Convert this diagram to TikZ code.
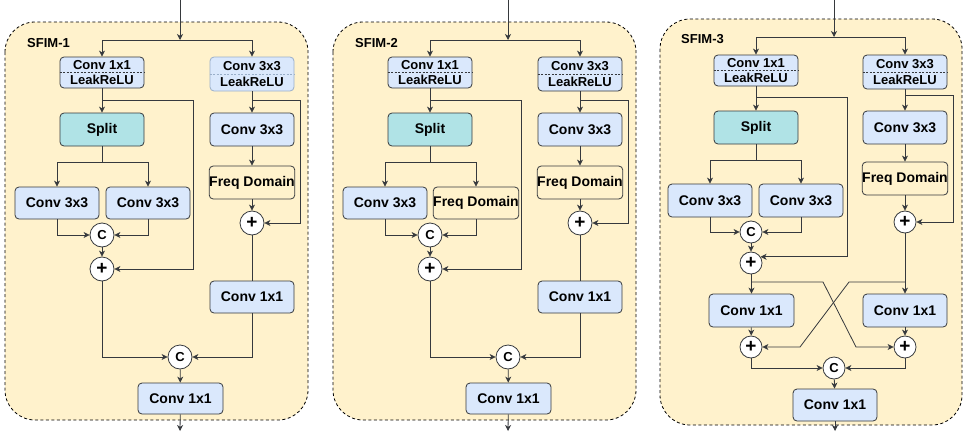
\documentclass[tikz,border=0pt]{standalone}
\usepackage{fontspec}
\setmainfont{Liberation Sans}
\usetikzlibrary{arrows.meta,calc}
\definecolor{bgY}{HTML}{FFF2CC}
\definecolor{blu}{HTML}{DAE8FC}
\definecolor{splitc}{HTML}{B0E3E6}
\definecolor{edge}{HTML}{36393D}
\definecolor{lightedge}{HTML}{9AAFC9}
\tikzset{
  every node/.style={font=\bfseries\fontsize{14}{16}\selectfont},
  panel/.style={draw=black, line width=0.8pt, dash pattern=on 3pt off 2.5pt, fill=bgY, rounded corners=30pt},
  lbl/.style={font=\bfseries\fontsize{13}{14}\selectfont, inner sep=0pt},
  blk/.style={draw=edge, line width=0.8pt, rounded corners=4pt, inner sep=0pt, fill=blu},
  spl/.style={blk, fill=splitc},
  fq/.style={blk, fill=bgY},
  two/.style={align=center, font=\bfseries\fontsize{13}{15.5}\selectfont},
  lightb/.style={draw=lightedge},
  circ/.style={draw=edge, line width=0.8pt, circle, fill=white, inner sep=0pt, minimum size=#1},
  circ/.default=24pt,
  cc/.style={circ=#1, font=\bfseries\fontsize{13}{13}\selectfont},
  cc/.default=24pt,
  pp/.style={circ=#1, font=\bfseries\fontsize{19}{19}\selectfont},
  pp/.default=24pt,
  ln/.style={draw=edge, line width=0.8pt},
  arr/.style={ln, -{Stealth[length=6pt,width=6pt,inset=1.8pt]}},
  dv/.style={draw=edge, line width=0.6pt, dash pattern=on 2pt off 1.5pt}
}
\newcommand\bx[7]{\node[#6, minimum width={(#4-#2)*1pt}, minimum height={(#5-#3)*1pt}] (#1) at ({(#2+#4)/2},{(#3+#5)/2}) {#7};}
\newcommand\panelAB[6]{%
\begin{scope}[shift={(#2,0)}]
\draw[panel] (5,22) rectangle (308,420);
\node[lbl,anchor=west] at (27,43) {#3};
\coordinate (#1in) at (180,0);
\coordinate (#1br) at (180,40);
\bx{#1c11}{60}{57}{144}{88}{blk,two}{Conv 1x1\\LeakReLU}
\bx{#1c33a}{210}{57}{294}{91}{blk,two,#6}{Conv 3x3\\LeakReLU}
\draw[dv] (#1c11.west) -- (#1c11.east);
\draw[dv,#6] (#1c33a.west) -- (#1c33a.east);
\bx{#1split}{60}{113}{144}{146}{spl}{Split}
\bx{#1cA}{15}{187}{99}{219}{blk}{Conv 3x3}
\bx{#1cB}{106}{187}{190}{219}{#4}{#5}
\node[cc] (#1C1) at (102,235) {C};
\node[pp] (#1P1) at (102,269) {+};
\bx{#1c33b}{210}{113}{294}{146}{blk}{Conv 3x3}
\bx{#1fd}{210}{166}{294}{199}{fq}{Freq Domain}
\node[pp] (#1P2) at (252,223) {+};
\bx{#1c11b}{210}{281}{294}{313}{blk}{Conv 1x1}
\node[cc] (#1C2) at (180,357) {C};
\bx{#1out}{138}{383}{223}{414}{blk}{Conv 1x1}
\coordinate (#1end) at (180,431);
\coordinate (#1k1) at (193,100);
\coordinate (#1k2) at (300,100);
\coordinate (#1s) at (102,162);
\draw[arr] (#1in) -- (#1br);
\draw[arr] (#1br) -| (#1c11.north);
\draw[arr] (#1br) -| (#1c33a.north);
\draw[arr] (#1c11) -- (#1split);
\draw[arr] (#1c11.south |- #1k1) -- (#1k1) |- (#1P1.east);
\draw[ln] (#1split) -- (#1s);
\draw[arr] (#1s) -| (#1cA.north);
\draw[arr] (#1s) -| (#1cB.north);
\draw[arr] (#1cA.south) |- (#1C1.west);
\draw[arr] (#1cB.south) |- (#1C1.east);
\draw[arr] (#1C1) -- (#1P1);
\draw[arr] (#1P1.south) |- (#1C2.west);
\draw[arr] (#1c33a) -- (#1c33b);
\draw[arr] (#1c33a.south |- #1k2) -- (#1k2) |- (#1P2.east);
\draw[arr] (#1c33b) -- (#1fd);
\draw[arr] (#1fd) -- (#1P2);
\draw[ln] (#1P2) -- (#1c11b);
\draw[arr] (#1c11b.south) |- (#1C2.east);
\draw[arr] (#1C2) -- (#1out);
\draw[arr] (#1out) -- (#1end);
\end{scope}}
\begin{document}
\begin{tikzpicture}[x=1pt,y=-1pt]
\useasboundingbox (0,0) rectangle (968,431);
\panelAB{a}{0}{SFIM-1}{blk}{Conv 3x3}{lightb}
\panelAB{b}{328}{SFIM-2}{fq}{Freq Domain}{}
% ---------- SFIM-3 ----------
\draw[panel] (660,19) rectangle (962,425);
\node[lbl,anchor=west] at (681,39) {SFIM-3};
\coordinate (cin) at (834,0);
\coordinate (cbr) at (834,37);
\bx{cc11}{714}{55}{798}{86}{blk,two}{Conv 1x1\\LeakReLU}
\bx{cc33a}{863}{55}{947}{89}{blk,two}{Conv 3x3\\LeakReLU}
\draw[dv] (cc11.west) -- (cc11.east);
\draw[dv] (cc33a.west) -- (cc33a.east);
\bx{csplit}{714}{111}{798}{144}{spl}{Split}
\bx{ccA}{668}{184}{752}{217}{blk}{Conv 3x3}
\bx{ccB}{759}{184}{843}{217}{blk}{Conv 3x3}
\node[cc=22pt] (cC1) at (751,232) {C};
\node[pp=22pt] (cP1) at (751,263) {+};
\bx{cc33b}{863}{111}{947}{144}{blk}{Conv 3x3}
\bx{cfd}{863}{162}{947}{195}{fq}{Freq Domain}
\node[pp=22pt] (cP2) at (905,222) {+};
\bx{ccL}{709}{294}{794}{327}{blk}{Conv 1x1}
\bx{ccR}{863}{294}{947}{327}{blk}{Conv 1x1}
\node[pp=22pt] (cP3) at (751,347) {+};
\node[pp=22pt] (cP4) at (905,347) {+};
\node[cc=22pt] (cC2) at (834,368) {C};
\bx{cout}{793}{389}{877}{421}{blk}{Conv 1x1}
\coordinate (cend) at (835,431);
\coordinate (ck1) at (847,97);
\coordinate (ck2) at (953,95);
\coordinate (cs) at (756,160);
\coordinate (cx1) at (905,282);
\coordinate (cx2) at (751,282);
\coordinate (cd1) at (849,282);
\coordinate (cd2) at (800,347);
\coordinate (cd3) at (823,282);
\coordinate (cd4) at (856,347);
\draw[arr] (cin) -- (cbr);
\draw[arr] (cbr) -| (cc11.north);
\draw[arr] (cbr) -| (cc33a.north);
\draw[arr] (cc11) -- (csplit);
\draw[arr] (cc11.south |- ck1) -- (ck1) |- (cP1.33);
\draw[ln] (csplit) -- (cs);
\draw[arr] (cs) -| (ccA.north);
\draw[arr] (cs) -| (ccB.north);
\draw[arr] (ccA.south) |- (cC1.west);
\draw[arr] (ccB.south) |- (cC1.east);
\draw[arr] (cC1) -- (cP1);
\draw[arr] (cc33a) -- (cc33b);
\draw[arr] (cc33a.south |- ck2) -- (ck2) |- (cP2.east);
\draw[arr] (cc33b) -- (cfd);
\draw[arr] (cfd) -- (cP2);
\draw[ln] (cP2) -- (cx1);
\draw[arr] (cx1) -- (ccR.north);
\draw[ln] (cP1) -- (cx2);
\draw[arr] (cx2) -- (cx2 -| ccL.north) -- (ccL.north);
\draw[arr] (cx1) -- (cd1) -- (cd2) -- (cP3.east);
\draw[arr] (cx2) -- (cd3) -- (cd4) -- (cP4.west);
\draw[arr] (ccL) -- (cP3);
\draw[arr] (ccR) -- (cP4);
\draw[arr] (cP3.south) |- (cC2.west);
\draw[arr] (cP4.south) |- (cC2.east);
\draw[arr] (cC2) -- (cout);
\draw[arr] (cout) -- (cend);
\end{tikzpicture}
\end{document}
